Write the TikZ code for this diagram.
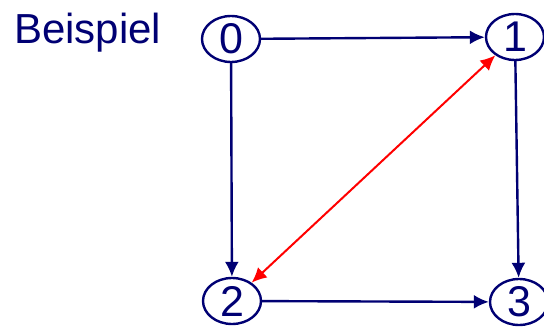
\documentclass[tikz,border=0pt]{standalone}
\usepackage{fontspec}
\setmainfont{Liberation Sans}
\usepackage{xcolor}
\usepackage{tikz}
\usetikzlibrary{arrows.meta,shapes.geometric}

\definecolor{navy}{RGB}{0,0,115}

\begin{document}
\begin{tikzpicture}[
    x=1pt, y=-1pt,
    vertex/.style={ellipse, draw=navy, line width=2.4pt, text=navy,
                   minimum width=58pt, minimum height=46pt, inner sep=0pt,
                   font=\fontsize{43}{43}\selectfont},
    edge/.style={-{Latex[length=15pt, width=14pt]}, line width=2.4pt, draw=navy},
    cross/.style={{Latex[length=15pt, width=14pt]}-{Latex[length=15pt, width=14pt]},
                  line width=2pt, draw=red}
]

\useasboundingbox (0,0) rectangle (544,329);

% -------------------------------------------------
% Title
% -------------------------------------------------

\node[anchor=base west, inner sep=0pt, text=navy,
      font=\fontsize{42}{42}\selectfont] (title) at (14,44) {Beispiel};

% -------------------------------------------------
% Vertices
% -------------------------------------------------

\node[vertex] (n0) at (231,39) {0};
\node[vertex] (n1) at (515,37) {1};
\node[vertex] (n2) at (232,301) {2};
\node[vertex] (n3) at (519,302) {3};

% -------------------------------------------------
% Edges
% -------------------------------------------------

\draw[edge] (n0) -- (n1);
\draw[edge] (n0) -- (n2);
\draw[edge] (n1) -- (n3);
\draw[edge] (n2) -- (n3);

\draw[cross] (n2) -- (n1);

\end{tikzpicture}
\end{document}
